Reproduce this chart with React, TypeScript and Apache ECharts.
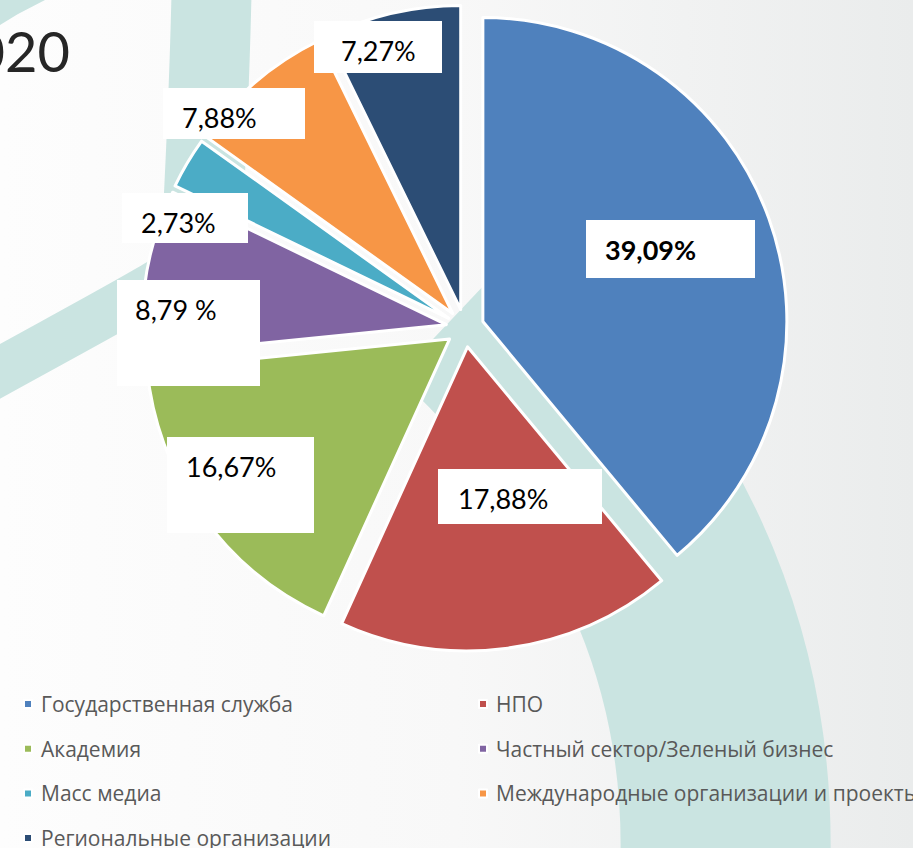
import React, { useEffect, useRef } from "react";
import * as echarts from "echarts";

const categories = [
  "Государственная служба",
  "НПО",
  "Академия",
  "Частный сектор/Зеленый бизнес",
  "Масс медиа",
  "Международные организации и проекты",
  "Региональные организации",
];
const values = [39.09, 17.88, 16.67, 8.79, 2.73, 7.88, 7.27];
const labelTexts = ["39,09%", "17,88%", "16,67%", "8,79 %", "2,73%", "7,88%", "7,27%"];
const colors = ["#4f81bd", "#c0504d", "#9bbb59", "#8064a2", "#4bacc6", "#f79646", "#2c4d75"];
const titleText = "2020";

// label box layout: [left, top, width, height, padLeft]
const labelBoxes = [
  [586, 220, 169, 58, 19],
  [438, 469, 164, 55, 20],
  [167, 437, 147, 96, 19],
  [117, 280, 143, 106, 18],
  [122, 193, 126, 50, 19],
  [163, 88, 142, 51, 19],
  [314, 21, 128, 52, 27],
];

const TEAL = "#cae4e1";

export default function App() {
  const ref = useRef<HTMLDivElement>(null);
  useEffect(() => {
    if (!ref.current) return;
    const chart = echarts.init(ref.current, undefined, { renderer: "svg" });
    const padTop = 14;
    const data = values.map((v, i) => ({
      name: categories[i],
      value: v,
      selected: true,
      itemStyle: { color: colors[i] },
    }));
    const labelElements = labelTexts.map((t, i) => {
      const b = labelBoxes[i];
      return {
        type: "text",
        z: 10,
        silent: true,
        style: {
          x: b[0],
          y: b[1],
          text: t,
          align: "left",
          verticalAlign: "top",
          backgroundColor: "#ffffff",
          padding: [padTop, 0, 0, b[4]],
          width: b[2] - b[4],
          height: b[3] - padTop,
          lineHeight: 30,
          fontFamily: "Lato",
          fontSize: 27,
          fontWeight: i === 0 ? "bold" : "normal",
          fill: "#000000",
        },
      };
    });
    const leftNames = [categories[0], categories[2], categories[4], categories[6]];
    const rightNames = [categories[1], categories[3], categories[5]];
    const legendCommon = {
      orient: "vertical",
      top: 693,
      height: 200,
      padding: 0,
      itemWidth: 8,
      itemHeight: 8,
      itemGap: 22.7,
      icon: "rect",
      selectedMode: false,
      textStyle: {
        fontFamily: "Open Sans",
        fontSize: 21,
        lineHeight: 22,
        color: "#595959",
        padding: [0, 0, 0, 4],
      },
    };
    chart.setOption({
      animation: false,
      backgroundColor: "#f6f7f7",
      graphic: {
        elements: [
          {
            type: "rect",
            z: -20,
            silent: true,
            shape: { x: 0, y: 0, width: 913, height: 848 },
            style: {
              fill: new echarts.graphic.LinearGradient(0, 0, 1, 0, [
                { offset: 0, color: "#fdfdfd" },
                { offset: 0.5, color: "#f8f8f8" },
                { offset: 1, color: "#eaecec" },
              ]),
            },
          },
          {
            type: "bezierCurve",
            z: -10,
            silent: true,
            shape: { x1: 212, y1: -30, cpx1: 210, cpy1: 80, cpx2: 205, cpy2: 180, x2: 200, y2: 270 },
            style: { stroke: TEAL, lineWidth: 80, fill: null },
          },
          {
            type: "bezierCurve",
            z: -10,
            silent: true,
            shape: { x1: 205, y1: 250, cpx1: 180, cpy1: 275, cpx2: 120, cpy2: 305, x2: -30, y2: 388 },
            style: { stroke: TEAL, lineWidth: 48, fill: null },
          },
          {
            type: "bezierCurve",
            z: -10,
            silent: true,
            shape: { x1: 470, y1: 300, cpx1: 660, cpy1: 480, cpx2: 745, cpy2: 680, x2: 722, y2: 920 },
            style: { stroke: TEAL, lineWidth: 210, fill: null },
          },
          {
            type: "polygon",
            z: -10,
            silent: true,
            shape: { points: [[0, 0], [0, 25], [18, 14], [45, 0]] },
            style: { fill: TEAL },
          },
          {
            type: "text",
            z: 5,
            silent: true,
            style: {
              x: 70,
              y: 50,
              text: titleText,
              align: "right",
              verticalAlign: "middle",
              fontFamily: "Lato",
              fontSize: 56,
              fill: "#262626",
            },
          },
          ...labelElements,
        ],
      },
      legend: [
        { ...legendCommon, left: 23, data: leftNames },
        { ...legendCommon, left: 478, data: rightNames },
      ],
      series: [
        {
          type: "pie",
          center: [465, 328],
          radius: 304,
          startAngle: 90,
          clockwise: true,
          selectedMode: "multiple",
          selectedOffset: 19,
          avoidLabelOverlap: false,
          itemStyle: { borderColor: "#ffffff", borderWidth: 3 },
          select: { itemStyle: { borderColor: "#ffffff", borderWidth: 3 } },
          emphasis: { disabled: true, scale: false },
          label: { show: false },
          labelLine: { show: false },
          data,
        },
      ],
    });
    return () => chart.dispose();
  }, []);
  return (
    <div
      ref={ref}
      style={{ position: "fixed", left: 0, top: 0, width: 913, height: 848 }}
    />
  );
}
